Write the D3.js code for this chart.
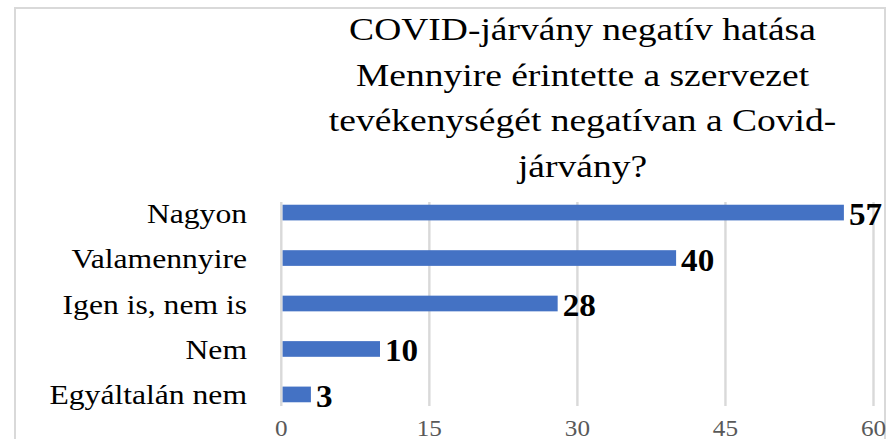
<!DOCTYPE html>
<html>
<head>
<meta charset="utf-8">
<script src="https://cdn.jsdelivr.net/npm/d3@7"></script>
<style>
  html, body { margin: 0; padding: 0; background: #fff; }
  svg { display: block; }
</style>
</head>
<body>
<div id="chart"></div>
<script>
// adatok
const titleLines = [
  "COVID-járvány negatív hatása",
  "Mennyire érintette a szervezet",
  "tevékenységét negatívan a Covid-",
  "járvány?"
];
const categories = ["Nagyon", "Valamennyire", "Igen is, nem is", "Nem", "Egyáltalán nem"];
const values = [57, 40, 28, 10, 3];
const xTicks = [0, 15, 30, 45, 60];

const W = 886, H = 439;
const FONT = "'Liberation Serif', 'Times New Roman', Tinos, serif";

const svg = d3.select("#chart").append("svg")
  .attr("width", W).attr("height", H)
  .attr("font-family", FONT);

// keret
svg.append("rect")
  .attr("x", 15).attr("y", 8)
  .attr("width", 870).attr("height", 460)
  .attr("fill", "#fff")
  .attr("stroke", "#d9d9d9")
  .attr("stroke-width", 2);

const x = d3.scaleLinear().domain([0, 60]).range([281.3, 873.5]);
const y = d3.scaleBand().domain(categories).range([202, 405])
  .paddingInner(0.655).paddingOuter(0.06);

// rácsvonalak
svg.append("g").selectAll("line")
  .data(xTicks)
  .join("line")
  .attr("x1", d => x(d)).attr("x2", d => x(d))
  .attr("y1", 202).attr("y2", 406)
  .attr("stroke", "#d9d9d9")
  .attr("stroke-width", 2.4);

// oszlopok
svg.append("g").selectAll("rect")
  .data(values)
  .join("rect")
  .attr("x", x(0) + 1.3)
  .attr("y", (d, i) => y(categories[i]))
  .attr("width", d => x(d) - x(0) - 1.3)
  .attr("height", y.bandwidth())
  .attr("fill", "#4472c4");

// szöveg segéd: vízszintesen nyújtott felirat (a kép kissé szélesre húzott)
function stretchedText(g, tx, ty, txt, sx) {
  return g.append("text")
    .attr("transform", `translate(${tx},${ty}) scale(${sx},1)`)
    .text(txt);
}

// cím
const titleG = svg.append("g")
  .attr("text-anchor", "middle")
  .attr("font-size", 32.5)
  .attr("fill", "#000");
titleLines.forEach((line, i) => {
  stretchedText(titleG, 582.5, 40 + i * 45.7, line, 1.155);
});

// kategória feliratok
const catG = svg.append("g")
  .attr("text-anchor", "end")
  .attr("font-size", 27.5)
  .attr("fill", "#000");
categories.forEach(c => {
  stretchedText(catG, 247, y(c) + y.bandwidth() / 2 + 10, c, 1.15);
});

// értékfeliratok
const valG = svg.append("g")
  .attr("text-anchor", "start")
  .attr("font-size", 31)
  .attr("font-weight", "bold")
  .attr("fill", "#000");
values.forEach((v, i) => {
  stretchedText(valG, x(v) + 5, y(categories[i]) + y.bandwidth() / 2 + 12.5, v, 1.07);
});

// tengelyfeliratok
const tickG = svg.append("g")
  .attr("text-anchor", "middle")
  .attr("font-size", 24)
  .attr("fill", "#595959");
xTicks.forEach(t => {
  stretchedText(tickG, x(t), 436, t, 1.05);
});
</script>
</body>
</html>
